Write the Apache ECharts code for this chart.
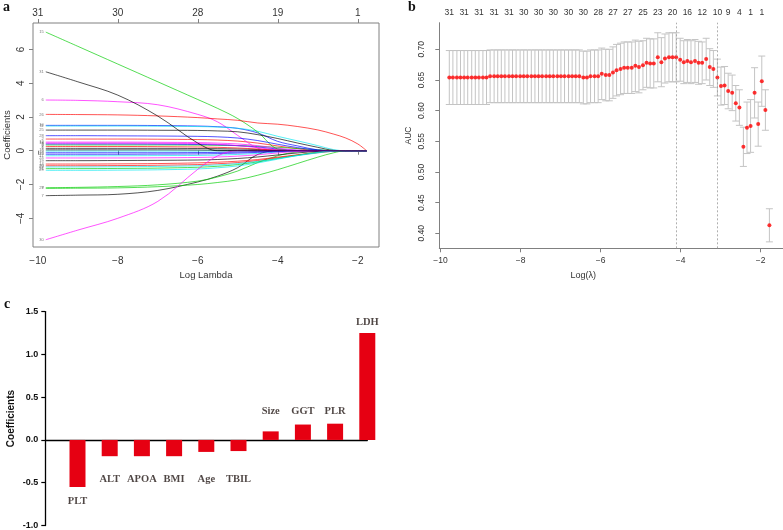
<!DOCTYPE html>
<html><head><meta charset="utf-8">
<script src="https://cdn.jsdelivr.net/npm/echarts@6/dist/echarts.min.js"></script>
<style>html,body{margin:0;padding:0;background:#fff}#c{width:783px;height:530px}</style>
</head><body><div id="c"></div>
<script>
// ---------------- Panel a : coefficient paths ----------------
const logLambdaA = [-9.8, -9, -8, -7, -6, -5.5, -5, -4.5, -4, -3.5, -3, -2.6, -2.3, -2, -1.78];
const pathIds = [1,2,3,4,5,6,7,8,9,10,11,12,13,14,15,16,17,18,19,20,21,22,23,24,25,26,27,28,29,30,31];
const pathValues = [
  [0.14,0.14,0.14,0.14,0.13,0.12,0.1,0.07,0.03,0,0,0,0,0,0],            // 1
  [0.69,0.69,0.69,0.68,0.66,0.63,0.57,0.45,0.28,0.12,0,0,0,0,0],        // 2
  [0.34,0.34,0.34,0.34,0.33,0.32,0.3,0.26,0.2,0.13,0.06,0.01,0,0,0],    // 3
  [0.40,0.40,0.40,0.39,0.37,0.35,0.3,0.22,0.1,0.02,0,0,0,0,0],          // 4
  [-0.02,-0.02,-0.02,-0.02,-0.02,-0.01,-0.01,0,0,0,0,0,0,0,0],          // 5
  [3.0,2.98,2.9,2.72,2.15,1.7,0.9,0.15,0,0,0,0,0,0,0],                  // 6
  [-2.66,-2.63,-2.58,-2.35,-1.85,-1.5,-1.0,-0.22,0,0,0,0,0,0,0],        // 7
  [0.25,0.25,0.25,0.24,0.22,0.2,0.16,0.1,0.04,0,0,0,0,0,0],             // 8
  [-2.19,-2.17,-2.12,-2.02,-1.8,-1.55,-1.2,-0.7,-0.3,-0.06,0,0,0,0,0],  // 9
  [1.50,1.50,1.50,1.49,1.46,1.42,1.32,1.05,0.55,0.28,0.05,0,0,0,0],     // 10
  [1.46,1.46,1.46,1.45,1.43,1.4,1.33,1.15,0.85,0.58,0.3,0.06,0,0,0],    // 11
  [0.51,0.51,0.51,0.5,0.48,0.45,0.4,0.3,0.15,0.03,0,0,0,0,0],           // 12
  [0.05,0.05,0.05,0.05,0.04,0.03,0.02,0,0,0,0,0,0,0,0],                 // 13
  [-0.79,-0.79,-0.78,-0.76,-0.72,-0.68,-0.62,-0.52,-0.38,-0.24,-0.1,-0.02,0,0,0], // 14
  [7.02,6.18,5.13,4.08,3.03,2.5,1.9,1.1,0.1,0,0,0,0,0,0],               // 15
  [-0.12,-0.12,-0.12,-0.12,-0.11,-0.1,-0.08,-0.05,-0.02,0,0,0,0,0,0],   // 16
  [-0.3,-0.3,-0.3,-0.29,-0.28,-0.26,-0.22,-0.16,-0.08,-0.02,0,0,0,0,0], // 17
  [0.45,0.45,0.45,0.44,0.42,0.38,0.3,0.18,0.05,0,0,0,0,0,0],            // 18
  [-0.59,-0.59,-0.58,-0.57,-0.55,-0.52,-0.46,-0.37,-0.25,-0.13,-0.04,0,0,0,0], // 19
  [-0.89,-0.89,-0.88,-0.86,-0.82,-0.77,-0.7,-0.58,-0.42,-0.26,-0.12,-0.03,0,0,0], // 20
  [-1.06,-1.06,-1.05,-1.03,-0.98,-0.92,-0.82,-0.66,-0.46,-0.26,-0.09,0,0,0,0], // 21
  [-0.21,-0.21,-0.21,-0.2,-0.19,-0.17,-0.14,-0.1,-0.05,-0.01,0,0,0,0,0], // 22
  [-0.96,-0.96,-0.95,-0.93,-0.89,-0.84,-0.76,-0.63,-0.46,-0.29,-0.13,-0.03,0,0,0], // 23
  [-0.43,-0.43,-0.43,-0.42,-0.4,-0.37,-0.32,-0.24,-0.13,-0.04,0,0,0,0,0], // 24
  [1.22,1.22,1.22,1.21,1.2,1.17,1.12,0.95,0.72,0.45,0.2,0.02,0,0,0],    // 25
  [2.15,2.14,2.12,2.06,1.96,1.88,1.8,1.64,1.57,1.43,1.23,0.98,0.75,0.4,0], // 26
  [-2.23,-2.22,-2.2,-2.13,-2.0,-1.88,-1.72,-1.45,-1.12,-0.75,-0.38,-0.12,0,0,0], // 27
  [0.89,0.89,0.88,0.87,0.85,0.82,0.75,0.6,0.38,0.18,0.03,0,0,0,0],      // 28
  [-1.16,-1.16,-1.15,-1.13,-1.08,-1.01,-0.9,-0.72,-0.5,-0.28,-0.1,0,0,0,0], // 29
  [-5.27,-4.7,-4.0,-3.0,-1.1,-0.3,0,0,0,0,0,0,0,0,0],                   // 30
  [4.67,4.08,3.29,2.05,0.45,0,0,0,0,0,0,0,0,0,0]                        // 31
];
const topTickA = [-10, -8, -6, -4, -2];
const topLabelsA = ['31', '30', '28', '19', '1'];

// ---------------- Panel b : cross-validated AUC ----------------
const logLambdaB = [-9.78,-9.69,-9.59,-9.50,-9.41,-9.32,-9.22,-9.13,-9.04,-8.94,
  -8.85,-8.76,-8.66,-8.57,-8.48,-8.39,-8.29,-8.20,-8.11,-8.01,
  -7.92,-7.83,-7.73,-7.64,-7.55,-7.46,-7.36,-7.27,-7.18,-7.08,
  -6.99,-6.90,-6.80,-6.71,-6.62,-6.53,-6.43,-6.34,-6.25,-6.15,
  -6.06,-5.97,-5.87,-5.78,-5.69,-5.60,-5.50,-5.41,-5.32,-5.22,
  -5.13,-5.04,-4.94,-4.85,-4.76,-4.67,-4.57,-4.48,-4.39,-4.29,
  -4.20,-4.11,-4.01,-3.92,-3.83,-3.74,-3.64,-3.55,-3.46,-3.36,
  -3.27,-3.18,-3.08,-2.99,-2.90,-2.81,-2.71,-2.62,-2.53,-2.43,
  -2.34,-2.25,-2.15,-2.06,-1.97,-1.88,-1.78];
const aucMean = [0.654,0.654,0.654,0.654,0.654,0.654,0.654,0.654,0.654,0.654,
  0.654,0.656,0.656,0.656,0.656,0.656,0.656,0.656,0.656,0.656,
  0.656,0.656,0.656,0.656,0.656,0.656,0.656,0.656,0.656,0.656,
  0.656,0.656,0.656,0.656,0.656,0.656,0.654,0.654,0.656,0.656,
  0.656,0.660,0.658,0.658,0.662,0.666,0.668,0.670,0.670,0.670,
  0.673,0.671,0.674,0.678,0.677,0.677,0.687,0.679,0.685,0.687,
  0.687,0.687,0.683,0.679,0.681,0.679,0.681,0.678,0.678,0.684,
  0.671,0.668,0.654,0.640,0.641,0.632,0.629,0.612,0.605,0.541,
  0.572,0.575,0.629,0.578,0.648,0.601,0.413];
const aucSd = [0.044,0.044,0.044,0.044,0.044,0.044,0.044,0.044,0.044,0.044,
  0.044,0.043,0.043,0.043,0.043,0.043,0.043,0.043,0.043,0.043,
  0.043,0.043,0.043,0.043,0.043,0.043,0.043,0.043,0.043,0.043,
  0.043,0.043,0.043,0.043,0.043,0.043,0.043,0.043,0.043,0.043,
  0.043,0.042,0.042,0.042,0.042,0.042,0.042,0.042,0.042,0.042,
  0.042,0.042,0.040,0.040,0.040,0.040,0.040,0.040,0.040,0.040,
  0.040,0.040,0.035,0.035,0.035,0.035,0.035,0.035,0.034,0.034,
  0.030,0.030,0.030,0.031,0.031,0.029,0.029,0.029,0.029,0.032,
  0.042,0.043,0.041,0.036,0.041,0.033,0.027];
const nzAtB = [-9.78,-9.41,-9.04,-8.66,-8.29,-7.92,-7.55,-7.18,-6.80,-6.43,-6.06,-5.69,
  -5.32,-4.94,-4.57,-4.20,-3.83,-3.46,-3.08,-2.81,-2.53,-2.25,-1.97];
const nzLabelsB = ['31','31','31','31','31','30','30','30','30','30','28','27',
  '27','25','23','20','16','12','10','9','4','1','1'];
const lambdaMinB = -4.11;
const lambda1seB = -3.08;

// ---------------- Panel c : selected coefficients ----------------
const featNames = ['PLT','ALT','APOA','BMI','Age','TBIL','Size','GGT','PLR','LDH'];
const featCoef = [-0.55,-0.19,-0.19,-0.19,-0.14,-0.13,0.10,0.18,0.19,1.25];

// ---------------- build chart ----------------
const rPal = ['#000000', '#FF0000', '#00CD00', '#0000FF', '#00E5EE', '#FF00FF'];
const minus = v => String(v).replace('-', '\u2212');
const txt = '#333';
const sans = 'Liberation Sans, Arial, sans-serif';
const serif = 'Liberation Serif, Times New Roman, serif';
const frame = '#808080';

// name label anchors for panel c (text placement, value units)
const nameLabelY = featCoef.map((v, i) => v < 0 ? (v < -0.4 ? -0.72 : -0.46) : (v > 1 ? 1.375 : 0.33));

const series = [];
pathIds.forEach((id, j) => {
  series.push({
    type: 'line', xAxisIndex: 0, yAxisIndex: 0, silent: true,
    showSymbol: false, smooth: 0.35,
    lineStyle: { width: 0.9, color: rPal[(id - 1) % 6], opacity: 0.75 },
    data: logLambdaA.map((x, i) => [x, pathValues[j][i]]),
    z: 2
  });
});
series.push({
  type: 'scatter', xAxisIndex: 0, yAxisIndex: 0, silent: true, symbolSize: 0,
  data: pathIds.map((id, j) => [logLambdaA[0], pathValues[j][0], String(id)]),
  label: { show: true, position: 'left', distance: 2, fontSize: 4, color: '#555',
           fontFamily: sans, formatter: p => p.data[2] },
  labelLayout: { hideOverlap: false }
});
// panel b error bars
series.push({
  type: 'custom', xAxisIndex: 2, yAxisIndex: 1, silent: true,
  data: logLambdaB.map((x, i) => [x, aucMean[i], aucSd[i]]),
  encode: { x: 0, y: 1 },
  renderItem: (params, api) => {
    const x = api.value(0), m = api.value(1), s = api.value(2);
    const t = api.coord([x, m + s]), b = api.coord([x, m - s]);
    const hw = 3.5, st = { stroke: '#C4C4C4', lineWidth: 1 };
    return { type: 'group', children: [
      { type: 'line', shape: { x1: t[0], y1: t[1], x2: b[0], y2: b[1] }, style: st },
      { type: 'line', shape: { x1: t[0] - hw, y1: t[1], x2: t[0] + hw, y2: t[1] }, style: st },
      { type: 'line', shape: { x1: b[0] - hw, y1: b[1], x2: b[0] + hw, y2: b[1] }, style: st }
    ]};
  },
  z: 2
});
series.push({
  type: 'scatter', xAxisIndex: 2, yAxisIndex: 1, silent: true,
  symbol: 'circle', symbolSize: 4, itemStyle: { color: '#FF0000' },
  data: logLambdaB.map((x, i) => [x, aucMean[i]]),
  markLine: { silent: true, symbol: 'none', label: { show: false },
    lineStyle: { type: [2, 2], color: '#9a9a9a', width: 0.8 },
    data: [{ xAxis: lambdaMinB }, { xAxis: lambda1seB }] },
  z: 3
});
// panel c bars
series.push({
  type: 'bar', xAxisIndex: 4, yAxisIndex: 2, silent: true, barWidth: 16,
  itemStyle: { color: '#E60012' },
  data: featCoef.map((v, i) => [i + 1, v])
});
series.push({
  type: 'scatter', xAxisIndex: 4, yAxisIndex: 2, silent: true, symbolSize: 0,
  data: featNames.map((n, i) => [i + 1, nameLabelY[i], n]),
  label: { show: true, position: 'inside', fontFamily: serif, fontWeight: 'bold',
           fontSize: 10.5, color: '#231815', formatter: p => p.data[2] },
  labelLayout: { hideOverlap: false }
});

const option = {
  animation: false,
  backgroundColor: '#fff',
  title: [
    { text: 'a', left: 3, top: 0, padding: 0, textStyle: { fontFamily: serif, fontWeight: 'bold', fontSize: 14, color: '#111' } },
    { text: 'b', left: 408, top: 0, padding: 0, textStyle: { fontFamily: serif, fontWeight: 'bold', fontSize: 14, color: '#111' } },
    { text: 'c', left: 4, top: 297, padding: 0, textStyle: { fontFamily: serif, fontWeight: 'bold', fontSize: 14, color: '#111' } }
  ],
  grid: [
    { left: 33, top: 23, width: 346, height: 224, show: true, borderColor: frame, borderWidth: 1, backgroundColor: 'transparent' },
    { left: 439.3, top: 22.7, width: 343.7, height: 225.6 },
    { left: 45.3, top: 311.6, width: 322, height: 214 }
  ],
  xAxis: [
    { gridIndex: 0, type: 'value', min: -10.12, max: -1.47, position: 'bottom',
      axisLine: { show: false }, splitLine: { show: false },
      axisTick: { show: true, customValues: topTickA, length: 4, lineStyle: { color: frame } },
      axisLabel: { customValues: topTickA, formatter: minus, margin: 9, fontSize: 10, color: txt, fontFamily: sans },
      name: 'Log Lambda', nameLocation: 'middle', nameGap: 23,
      nameTextStyle: { fontSize: 9.5, color: txt, fontFamily: sans } },
    { gridIndex: 0, type: 'value', min: -10.12, max: -1.47, position: 'top',
      axisLine: { show: false }, splitLine: { show: false },
      axisTick: { show: true, customValues: topTickA, length: 4, lineStyle: { color: frame } },
      axisLabel: { customValues: topTickA, margin: 5, fontSize: 10, color: txt, fontFamily: sans,
        formatter: v => { const i = topTickA.findIndex(a => Math.abs(a - v) < 1e-6); return i >= 0 ? topLabelsA[i] : ''; } } },
    { gridIndex: 1, type: 'value', min: -10.03, max: -1.44, position: 'bottom',
      axisLine: { show: true, onZero: false, lineStyle: { color: frame } }, splitLine: { show: false },
      axisTick: { show: true, customValues: topTickA, length: 4, lineStyle: { color: frame } },
      axisLabel: { customValues: topTickA, formatter: minus, margin: 8, fontSize: 8.5, color: txt, fontFamily: sans },
      name: 'Log(\u03bb)', nameLocation: 'middle', nameGap: 23,
      nameTextStyle: { fontSize: 9, color: txt, fontFamily: sans, padding: [0, 56, 0, 0] } },
    { gridIndex: 1, type: 'value', min: -10.03, max: -1.44, position: 'top',
      axisLine: { show: false }, axisTick: { show: false }, splitLine: { show: false },
      axisLabel: { customValues: nzAtB, margin: 6, fontSize: 8.5, color: txt, fontFamily: sans,
        formatter: v => { const i = nzAtB.findIndex(a => Math.abs(a - v) < 1e-6); return i >= 0 ? nzLabelsB[i] : ''; } } },
    { gridIndex: 2, type: 'value', min: 0, max: 10,
      axisLine: { show: true, onZero: true, lineStyle: { color: '#000', width: 1.3 } },
      axisTick: { show: false }, axisLabel: { show: false }, splitLine: { show: false } }
  ],
  yAxis: [
    { gridIndex: 0, type: 'value', min: -5.70, max: 7.56,
      axisLine: { show: false }, splitLine: { show: false },
      axisTick: { show: true, customValues: [-4, -2, 0, 2, 4, 6], length: 4, lineStyle: { color: frame } },
      axisLabel: { customValues: [-4, -2, 0, 2, 4, 6], formatter: minus, rotate: 90, margin: 7, fontSize: 10, color: txt, fontFamily: sans },
      name: 'Coefficients', nameLocation: 'middle', nameGap: 21,
      nameTextStyle: { fontSize: 9.5, color: txt, fontFamily: sans } },
    { gridIndex: 1, type: 'value', min: 0.3755, max: 0.7434,
      axisLine: { show: true, onZero: false, lineStyle: { color: frame } }, splitLine: { show: false },
      axisTick: { show: true, customValues: [0.40, 0.45, 0.50, 0.55, 0.60, 0.65, 0.70], length: 4, lineStyle: { color: frame } },
      axisLabel: { customValues: [0.40, 0.45, 0.50, 0.55, 0.60, 0.65, 0.70], formatter: v => v.toFixed(2),
        rotate: 90, margin: 13, fontSize: 8.5, color: txt, fontFamily: sans },
      name: 'AUC', nameLocation: 'middle', nameGap: 26,
      nameTextStyle: { fontSize: 8.5, color: txt, fontFamily: sans } },
    { gridIndex: 2, type: 'value', min: -1, max: 1.5, interval: 0.5,
      axisLine: { show: true, onZero: false, lineStyle: { color: '#000', width: 1.3 } }, splitLine: { show: false },
      axisTick: { show: true, length: 4, lineStyle: { color: '#000', width: 1.2 } },
      axisLabel: { formatter: v => v.toFixed(1), margin: 7, fontSize: 9, fontWeight: 'bold', color: '#111', fontFamily: sans },
      name: 'Coefficients', nameLocation: 'middle', nameGap: 29,
      nameTextStyle: { fontSize: 10, fontWeight: 'bold', color: '#111', fontFamily: sans } }
  ],
  series: series
};

const chart = echarts.init(document.getElementById('c'), null, { renderer: 'canvas' });
chart.setOption(option);
</script>
</body></html>
